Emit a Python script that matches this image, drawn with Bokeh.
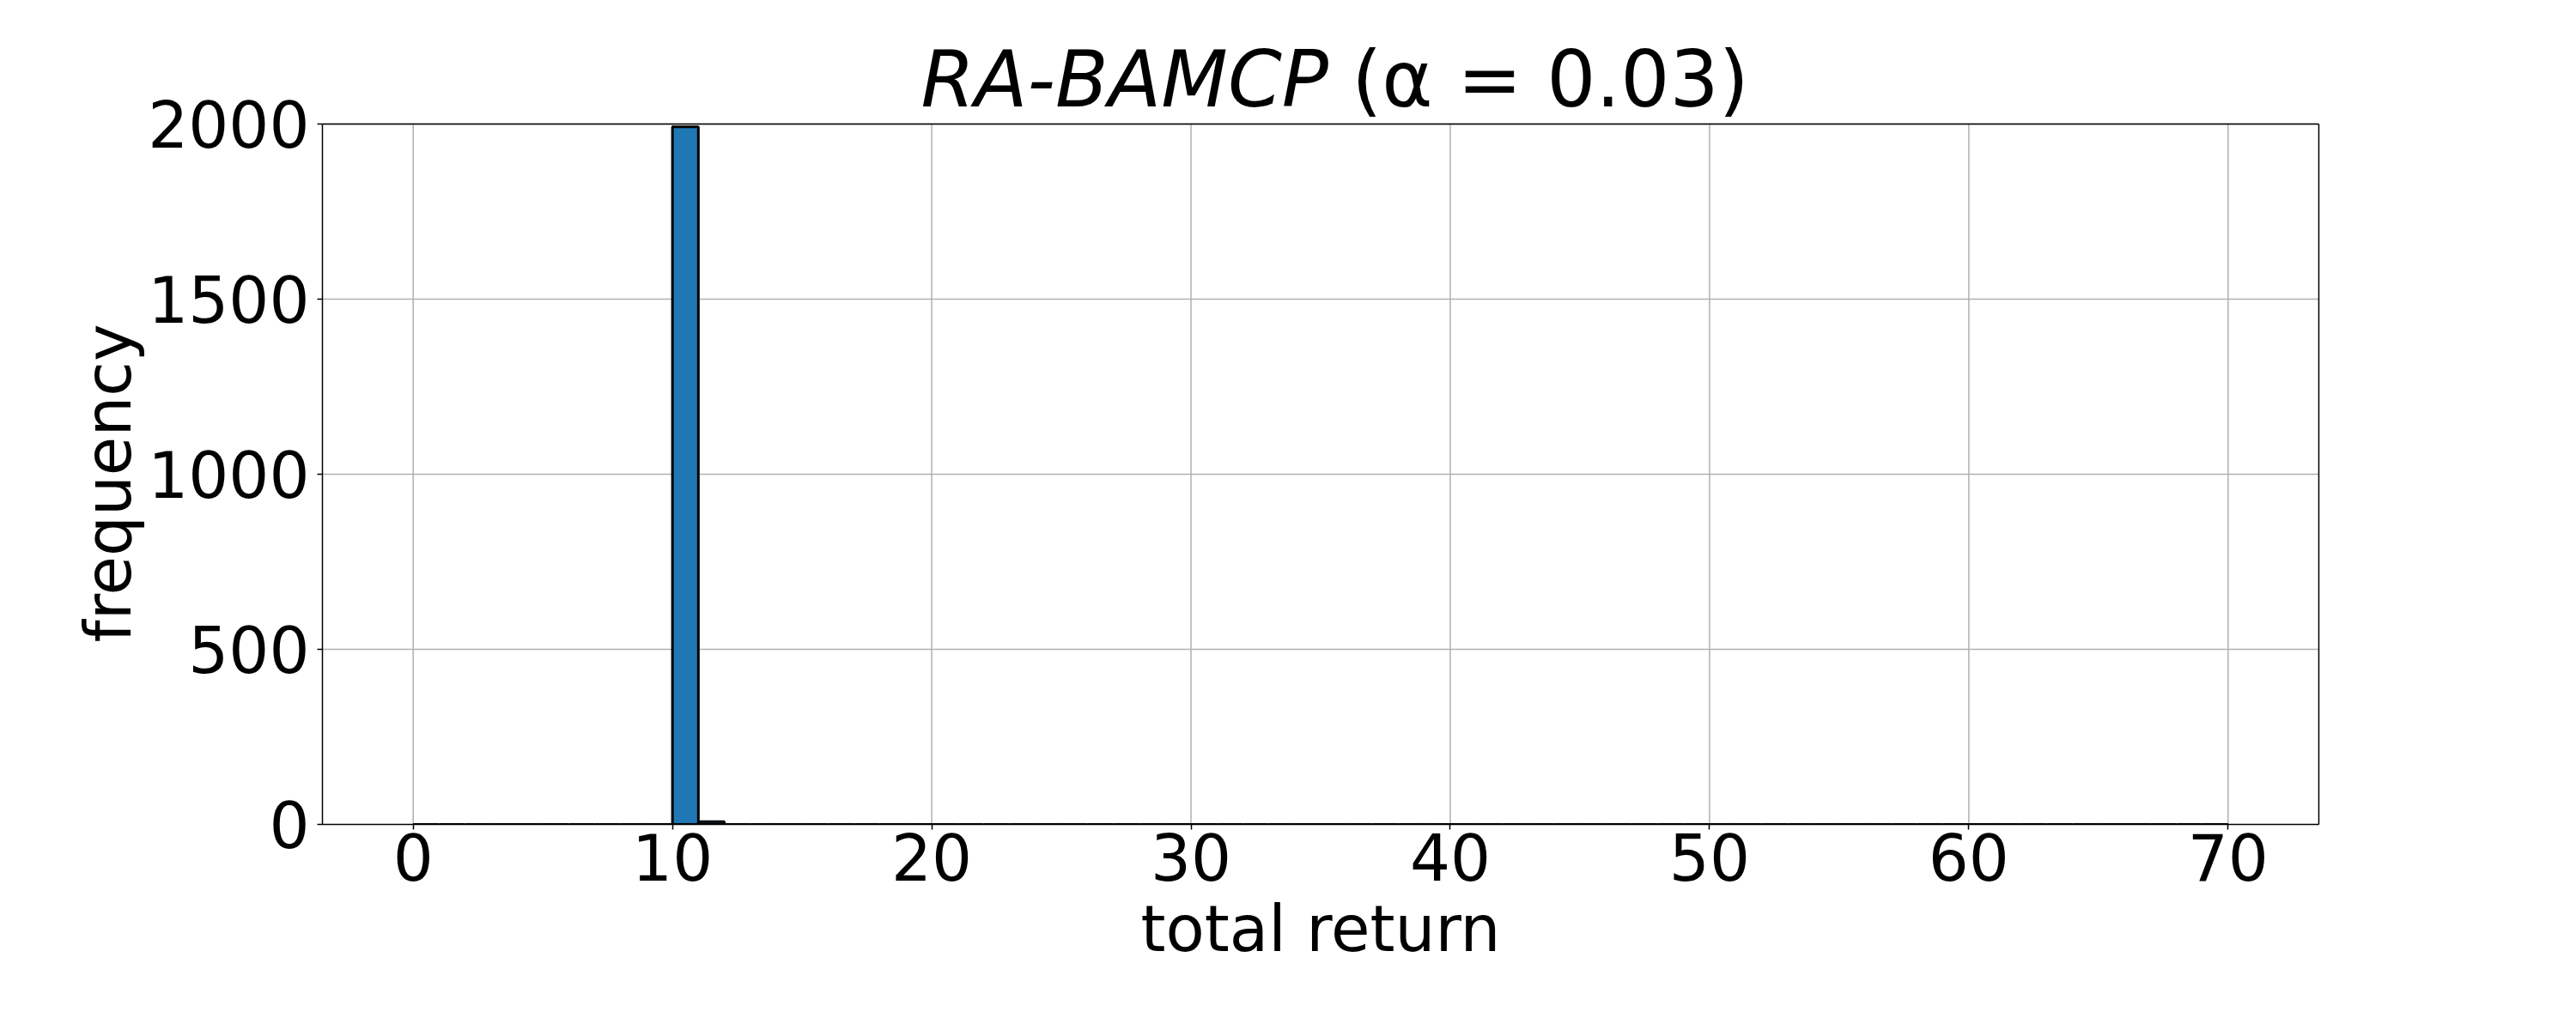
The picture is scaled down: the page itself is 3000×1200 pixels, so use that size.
from bokeh.plotting import figure
from bokeh.models import FixedTicker, Range1d, LinearAxis, Span
from bokeh.core.properties import value
from bokeh.embed import file_html
from bokeh.resources import INLINE

# histogram: 70 bins of width 1 from 0 to 70
bin_left = list(range(0, 70))
bin_right = list(range(1, 71))
counts = [0] * 70
counts[10] = 1992
counts[11] = 8

x_ticks = [0, 10, 20, 30, 40, 50, 60, 70]
y_ticks = [0, 500, 1000, 1500, 2000]
y_max = 2000

title_parts = ["RA-BAMCP", "(α = 0.03)"]
x_label = "total return"
y_label = "frequency"

FONT = "DejaVu Sans"

# layout (canvas pixels): axes box from y=144 to y=960; frame extended to canvas top
AX_TOP, AX_BOTTOM, TITLE_BASE = 144, 960, 92
units_per_px = y_max / (AX_BOTTOM - AX_TOP)
frame_top_val = y_max + AX_TOP * units_per_px
title_y = y_max + (AX_TOP - TITLE_BASE) * units_per_px

p = figure(width=2984, height=1184, output_backend="svg", toolbar_location=None,
           x_range=Range1d(-3.5, 73.5), y_range=Range1d(0, frame_top_val),
           min_border_left=375, min_border_right=284, min_border_top=0, min_border_bottom=224)
p.background_fill_color = "white"
p.border_fill_color = "white"
p.outline_line_color = None
p.xgrid.visible = False

# vertical grid lines limited to the axes box
p.segment(x0=x_ticks, y0=[0] * len(x_ticks), x1=x_ticks, y1=[y_max] * len(x_ticks),
          line_color="#b0b0b0", line_width=1.5)

p.quad(left=bin_left, right=bin_right, bottom=0, top=counts,
       fill_color="#1f77b4", line_color="black", line_width=3)

right_axis = LinearAxis(bounds=(0, y_max), major_tick_line_color=None, minor_tick_line_color=None,
                        major_label_text_color=None, major_label_text_font_size="1px",
                        axis_line_color="black", axis_line_width=1.5)
p.add_layout(right_axis, "right")
p.add_layout(Span(location=y_max, dimension="width", line_color="black", line_width=1.5))

for ax in (p.xaxis[0], p.yaxis[0]):
    ax.major_label_text_font = FONT
    ax.major_label_text_font_size = "74px"
    ax.major_label_text_color = "black"
    ax.axis_label_text_font = FONT
    ax.axis_label_text_font_size = "74px"
    ax.axis_label_text_font_style = "normal"
    ax.axis_label_text_color = "black"
    ax.axis_line_color = "black"
    ax.axis_line_width = 1.5
    ax.major_tick_line_color = "black"
    ax.major_tick_line_width = 1.5
    ax.major_tick_in = 0
    ax.major_tick_out = 6
    ax.minor_tick_line_color = None

p.yaxis[0].bounds = (0, y_max)
p.xaxis.ticker = FixedTicker(ticks=x_ticks)
p.yaxis[0].ticker = FixedTicker(ticks=y_ticks)
p.xaxis.axis_label = x_label
# trailing no-break spaces centre the rotated label on the axes box rather than the whole frame
p.yaxis[0].axis_label = y_label + "\u00a0" * 7
p.xaxis.major_label_standoff = 4
p.yaxis[0].major_label_standoff = 9
p.xaxis.axis_label_standoff = 10
p.yaxis[0].axis_label_standoff = 0

p.ygrid.ticker = FixedTicker(ticks=y_ticks)
p.ygrid.grid_line_color = "#b0b0b0"
p.ygrid.grid_line_width = 1.5

p.text(x=[35.3], y=[title_y], text=[title_parts[0]], text_align="right", text_baseline="alphabetic",
       text_font=value(FONT), text_font_size="90px", text_font_style="italic", text_color="black")
p.text(x=[36.2], y=[title_y], text=[title_parts[1]], text_align="left", text_baseline="alphabetic",
       text_font=value(FONT), text_font_size="90px", text_font_style="normal", text_color="black")

open("out.html", "w").write(file_html(p, INLINE))
